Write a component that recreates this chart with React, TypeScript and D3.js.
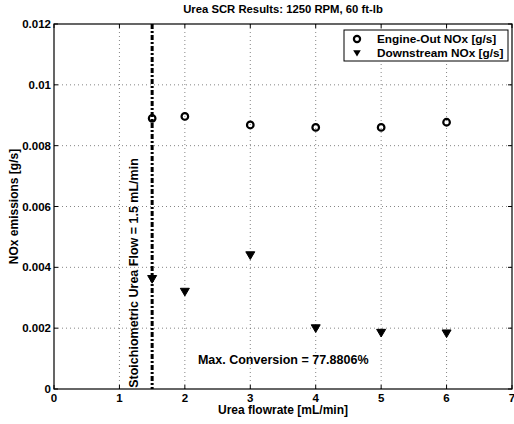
import React from "react";
import * as d3 from "d3";

const flowX = [1.5, 2, 3, 4, 5, 6];
const engineOut = [0.0089, 0.00896, 0.00868, 0.0086, 0.0086, 0.00877];
const downstream = [0.00362, 0.0032, 0.0044, 0.002, 0.00185, 0.00183];
const xTicks = [0, 1, 2, 3, 4, 5, 6, 7];
const yTicks = [0, 0.002, 0.004, 0.006, 0.008, 0.01, 0.012];
const yTickLabels = ["0", "0.002", "0.004", "0.006", "0.008", "0.01", "0.012"];
const stoichFlow = 1.5;
const titleText = "Urea SCR Results: 1250 RPM, 60 ft-lb";
const xLabel = "Urea flowrate [mL/min]";
const yLabel = "NOx emissions [g/s]";
const legendLabels = ["Engine-Out NOx [g/s]", "Downstream NOx [g/s]"];
const stoichText = "Stoichiometric Urea Flow = 1.5 mL/min";
const convText = "Max. Conversion = 77.8806%";

const W = 514, H = 424;
const L = 54, R = 512, T = 24, B = 389;
const font = "'Liberation Sans', Arial, sans-serif";

export default function App() {
  const x = d3.scaleLinear().domain([0, 7]).range([L, R]);
  const y = d3.scaleLinear().domain([0, 0.012]).range([B, T]);
  const tri = (cx: number, cy: number, s: number) =>
    `M${cx - s},${cy - s * 0.75}L${cx + s},${cy - s * 0.75}L${cx},${cy + s * 0.95}Z`;
  return (
    <svg width={W} height={H} style={{ position: "absolute", left: 0, top: 0, background: "#fff" }} fontFamily={font}>
      <rect x={0} y={0} width={W} height={H} fill="#fff" />
      {/* grid */}
      {xTicks.slice(1, -1).map((t) => (
        <line key={"gx" + t} x1={x(t)} x2={x(t)} y1={T} y2={B} stroke="#666" strokeWidth={0.8} strokeDasharray="1,3" />
      ))}
      {yTicks.slice(1, -1).map((t) => (
        <line key={"gy" + t} x1={L} x2={R} y1={y(t)} y2={y(t)} stroke="#666" strokeWidth={0.8} strokeDasharray="1,3" />
      ))}
      {/* frame */}
      <rect x={L} y={T} width={R - L} height={B - T} fill="none" stroke="#000" strokeWidth={1.2} />
      {/* ticks */}
      {xTicks.map((t) => (
        <g key={"tx" + t}>
          <line x1={x(t)} x2={x(t)} y1={B} y2={B - 4} stroke="#000" />
          <line x1={x(t)} x2={x(t)} y1={T} y2={T + 4} stroke="#000" />
          <text x={x(t)} y={B + 13} textAnchor="middle" fontSize={11.5} fontWeight="bold">{t}</text>
        </g>
      ))}
      {yTicks.map((t, i) => (
        <g key={"ty" + t}>
          <line x1={L} x2={L + 4} y1={y(t)} y2={y(t)} stroke="#000" />
          <line x1={R} x2={R - 4} y1={y(t)} y2={y(t)} stroke="#000" />
          <text x={L - 3} y={y(t) + 4} textAnchor="end" fontSize={11.5} fontWeight="bold">{yTickLabels[i]}</text>
        </g>
      ))}
      {/* stoichiometric line */}
      <line x1={x(stoichFlow)} x2={x(stoichFlow)} y1={T} y2={B} stroke="#000" strokeWidth={3} strokeDasharray="5,2,2,2" />
      <text transform={`translate(${x(stoichFlow) - 14},273) rotate(-90)`} textAnchor="middle" fontSize={12.5} fontWeight="bold">{stoichText}</text>
      <text x={x(2.2)} y={364} fontSize={12.5} fontWeight="bold">{convText}</text>
      {/* data */}
      {flowX.map((v, i) => (
        <circle key={"e" + i} cx={x(v)} cy={y(engineOut[i])} r={3.3} fill="none" stroke="#000" strokeWidth={2.2} />
      ))}
      {flowX.map((v, i) => (
        <path key={"d" + i} d={tri(x(v), y(downstream[i]), 4.5)} fill="#000" stroke="#000" strokeWidth={1} />
      ))}
      {/* legend */}
      <rect x={344} y={30} width={164} height={31} fill="#fff" stroke="#000" strokeWidth={1} />
      <circle cx={357} cy={39} r={3.1} fill="none" stroke="#000" strokeWidth={2.2} />
      <text x={377} y={43} fontSize={11.8} fontWeight="bold">{legendLabels[0]}</text>
      <path d={tri(357, 53, 3.8)} fill="#000" />
      <text x={377} y={57} fontSize={11.8} fontWeight="bold">{legendLabels[1]}</text>
      {/* labels */}
      <text x={(L + R) / 2} y={13} textAnchor="middle" fontSize={11.3} fontWeight="bold">{titleText}</text>
      <text x={(L + R) / 2} y={414} textAnchor="middle" fontSize={12} fontWeight="bold">{xLabel}</text>
      <text transform={`translate(18,${(T + B) / 2}) rotate(-90)`} textAnchor="middle" fontSize={12} fontWeight="bold">{yLabel}</text>
    </svg>
  );
}
